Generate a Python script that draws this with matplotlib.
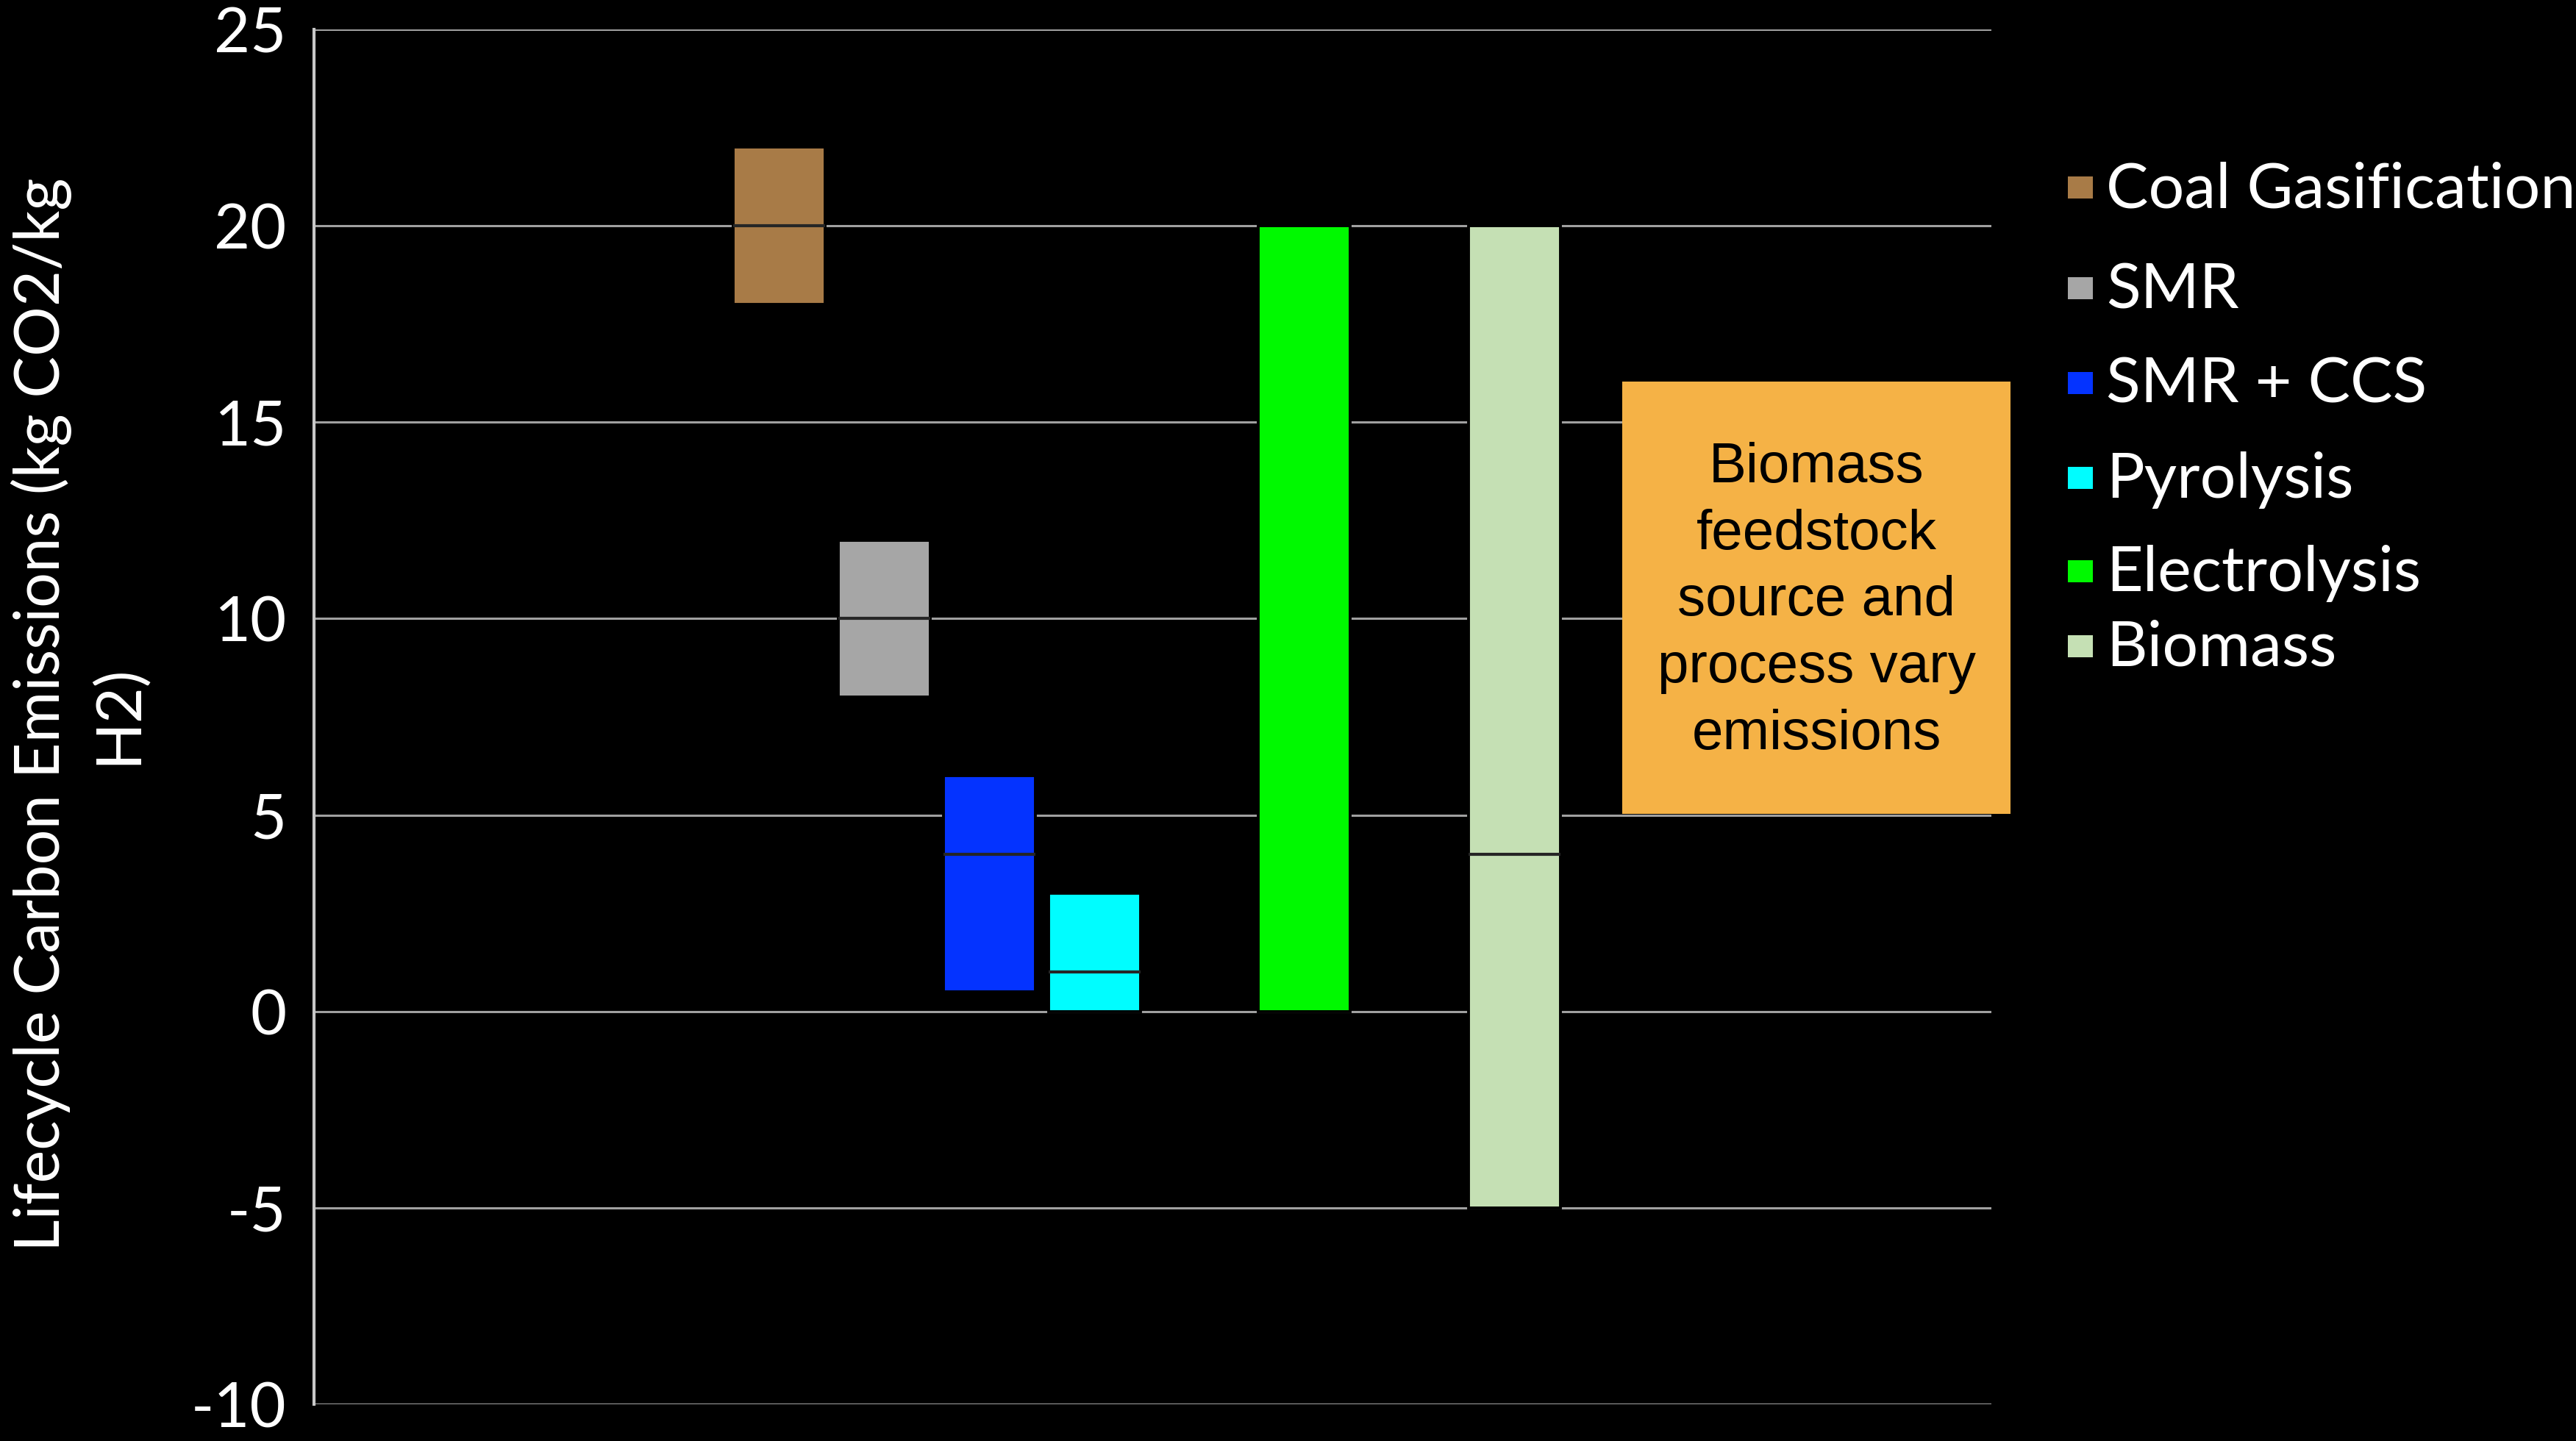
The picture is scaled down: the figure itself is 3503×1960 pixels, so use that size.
import numpy as np
import matplotlib
matplotlib.use("Agg")
import matplotlib.pyplot as plt
from matplotlib.patches import Rectangle

# Emission ranges per hydrogen production route (kg CO2 / kg H2)
categories = ["Coal Gasification", "SMR", "SMR + CCS", "Pyrolysis", "Electrolysis", "Biomass"]
low_values = [18, 8, 0.5, 0, 0, -5]
mid_values = [20, 10, 4, 1, np.nan, 4]
high_values = [22, 12, 6, 3, 20, 20]
bar_colors = ["#A87B47", "#A6A6A6", "#0433FF", "#00FDFF", "#00F900", "#C5E0B4"]
y_ticks = [-10, -5, 0, 5, 10, 15, 20, 25]

# Horizontal slots for the bars (gaps between groups)
slots = [0, 1, 2, 3, 5, 7]
bar_width = 0.875

W, H = 3503, 1960
fig = plt.figure(figsize=(W / 100, H / 100), dpi=100, facecolor="black")
ax = fig.add_axes([427 / W, 1 - 1910 / H, (2708 - 427) / W, (1910 - 40) / H])
ax.set_facecolor("black")

low = np.array(low_values, dtype=float)
high = np.array(high_values, dtype=float)
mid = np.array(mid_values, dtype=float)
ax.bar(slots, high - low, bottom=low, width=bar_width, color=bar_colors,
       edgecolor="black", linewidth=2.8, zorder=3)
for x, m in zip(slots, mid):
    if not np.isnan(m):
        ax.hlines(m, x - bar_width / 2, x + bar_width / 2, color="#262626",
                  linewidth=3, zorder=4)

ax.set_xlim(-4.43, 11.54)
ax.set_ylim(-10, 25)
ax.set_yticks(y_ticks)
ax.set_yticklabels([str(t) for t in y_ticks], fontsize=61, color="white",
                   family="Lato")
ax.tick_params(axis="y", length=0, pad=27)
ax.set_xticks([])
ax.yaxis.grid(True, color="#A0A0A0", linewidth=2.2, zorder=1)
ax.set_axisbelow(True)
for side in ["top", "right", "bottom"]:
    ax.spines[side].set_visible(False)
ax.spines["left"].set_color("#C8C8C8")
ax.spines["left"].set_linewidth(3)

# Y axis title on two lines
fig.text(107 / W, 1 - 972 / H, "Lifecycle Carbon Emissions (kg CO2/kg\nH2)",
         rotation=90, ha="center", va="center", multialignment="center",
         fontsize=61, color="white", family="Lato", linespacing=1.36)

# Legend entries
legend_baselines = [282, 419, 548, 677, 804, 906]
for name, color, base in zip(categories, bar_colors, legend_baselines):
    fig.add_artist(Rectangle((2812 / W, 1 - (base - 12) / H), 34 / W, 30 / H,
                             transform=fig.transFigure, facecolor=color,
                             edgecolor="none"))
    fig.text(2864 / W, 1 - base / H, name, ha="left", va="baseline",
             fontsize=62, color="white", family="Lato")

# Annotation box
fig.add_artist(Rectangle((2206 / W, 1 - 1107 / H), (2734 - 2206) / W, (1107 - 519) / H,
                         transform=fig.transFigure, facecolor="#F5B246",
                         edgecolor="none"))
fig.text(2470 / W, 1 - 818 / H,
         "Biomass\nfeedstock\nsource and\nprocess vary\nemissions",
         ha="center", va="center", multialignment="center", fontsize=55,
         color="black", family="Liberation Sans", linespacing=1.36)

fig.savefig("out.png", dpi=100, facecolor="black")
